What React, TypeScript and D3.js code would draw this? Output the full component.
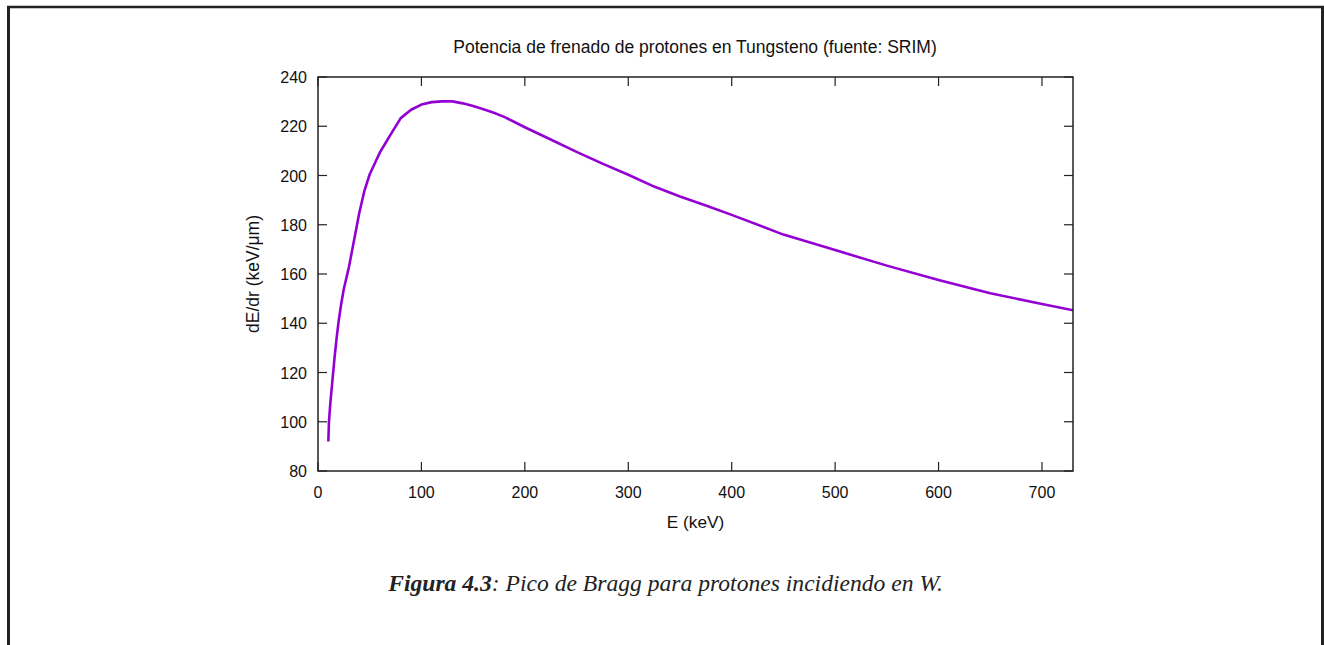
import React from "react";
import * as d3 from "d3";

const energies = [10, 10.6, 12, 14, 16, 18, 20, 22.5, 25, 27.5, 30, 35, 40, 45, 50, 55, 60, 65, 70, 80, 90, 100, 110, 120, 130, 140, 150, 160, 170, 180, 200, 225, 250, 275, 300, 325, 350, 375, 400, 450, 500, 550, 600, 650, 700, 750];
const stopping = [92, 100, 108, 117, 126, 134, 141, 148, 154, 158.5, 163, 174, 185, 194, 200.5, 205, 209.5, 213, 216.5, 223.3, 226.7, 228.8, 229.8, 230.1, 230.1, 229.3, 228.2, 226.9, 225.5, 223.8, 219.6, 214.6, 209.6, 204.8, 200.3, 195.5, 191.5, 187.8, 184, 176, 169.7, 163.4, 157.6, 152.2, 147.8, 143.6];
const xTicks = [0, 100, 200, 300, 400, 500, 600, 700];
const yTicks = [80, 100, 120, 140, 160, 180, 200, 220, 240];

const W = 1324, H = 645;
const L = 318, R = 1073, T = 77, B = 471;
const TICK = 9;
const FONT = "'Liberation Sans', Arial, sans-serif";

export default function App() {
  const x = d3.scaleLinear().domain([0, 730]).range([L, R]);
  const y = d3.scaleLinear().domain([80, 240]).range([B, T]);
  const pts = energies.map((e, i) => [e, stopping[i]] as [number, number]);
  const line = d3.line<[number, number]>().x(d => x(d[0])).y(d => y(d[1]));
  const ax = "#222";
  return (
    <svg width={W} height={H} style={{ position: "absolute", left: 0, top: 0, background: "#fff" }}>
      <defs>
        <clipPath id="plotclip"><rect x={L} y={T} width={R - L} height={B - T} /></clipPath>
      </defs>
      {/* page frame */}
      <line x1={8.5} y1={7} x2={8.5} y2={H} stroke="#222" strokeWidth={3} />
      <line x1={7} y1={7} x2={1324} y2={7} stroke="#222" strokeWidth={2.5} />
      <line x1={1322.5} y1={7} x2={1322.5} y2={H} stroke="#222" strokeWidth={3} />

      <text x={695} y={53} textAnchor="middle" fontFamily={FONT} fontSize={17.5} fill="#111">
        Potencia de frenado de protones en Tungsteno (fuente: SRIM)
      </text>

      {/* ticks */}
      {xTicks.map(t => (
        <g key={"x" + t}>
          <line x1={x(t)} x2={x(t)} y1={B} y2={B - TICK} stroke={ax} strokeWidth={1.2} />
          <line x1={x(t)} x2={x(t)} y1={T} y2={T + TICK} stroke={ax} strokeWidth={1.2} />
          <text x={x(t)} y={498} textAnchor="middle" fontFamily={FONT} fontSize={16} fill="#111">{t}</text>
        </g>
      ))}
      {yTicks.map(t => (
        <g key={"y" + t}>
          <line x1={L} x2={L + TICK} y1={y(t)} y2={y(t)} stroke={ax} strokeWidth={1.2} />
          <line x1={R} x2={R - TICK} y1={y(t)} y2={y(t)} stroke={ax} strokeWidth={1.2} />
          <text x={307} y={y(t) + 6} textAnchor="end" fontFamily={FONT} fontSize={16} fill="#111">{t}</text>
        </g>
      ))}

      <path d={line(pts) || ""} fill="none" stroke="#9400d3" strokeWidth={2.6} strokeLinejoin="round" clipPath="url(#plotclip)" />

      <rect x={L} y={T} width={R - L} height={B - T} fill="none" stroke={ax} strokeWidth={1.5} />

      <text x={695.5} y={528} textAnchor="middle" fontFamily={FONT} fontSize={17.2} fill="#111">E (keV)</text>
      <text transform={`translate(259,274) rotate(-90)`} textAnchor="middle" fontFamily={FONT} fontSize={17.5} fill="#111">dE/dr (keV/μm)</text>

      <text x={665.5} y={591} textAnchor="middle" fontFamily="'Liberation Serif', 'DejaVu Serif', serif" fontStyle="italic" fontSize={23.6} fill="#222">
        <tspan fontWeight="bold">Figura 4.3</tspan>: Pico de Bragg para protones incidiendo en W.
      </text>
    </svg>
  );
}
